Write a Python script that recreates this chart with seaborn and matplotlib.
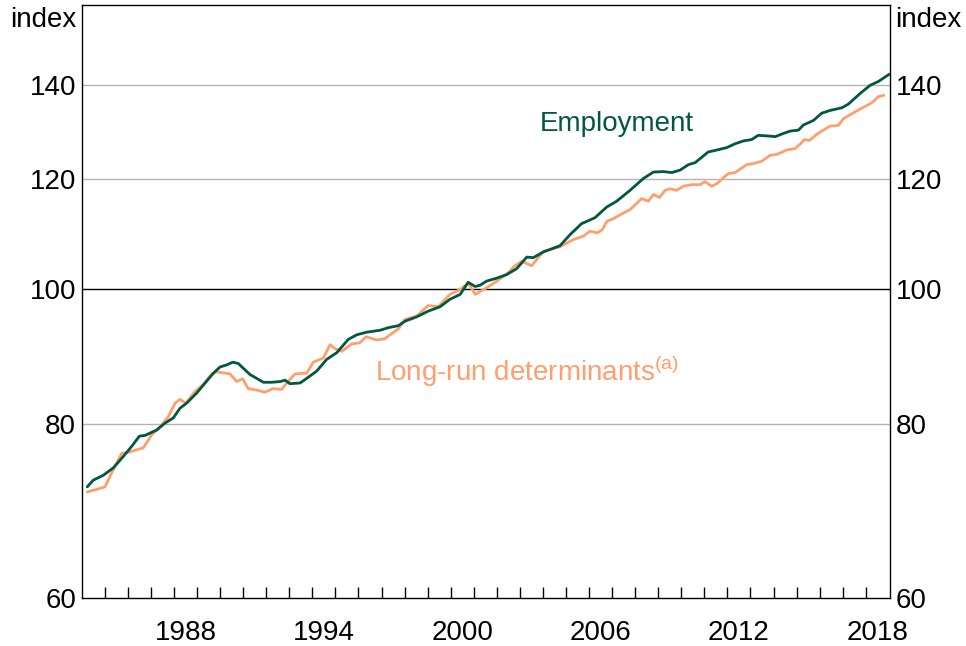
import numpy as np
import pandas as pd
import matplotlib
matplotlib.use("Agg")
import matplotlib.pyplot as plt
import seaborn as sns

# employment index, log scale, 2000 = 100
emp_dates = [1984.24, 1984.50, 1984.94, 1985.37, 1985.80, 1986.17, 1986.50, 1986.75,
             1987.25, 1987.61, 1987.97, 1988.26, 1988.55, 1988.99, 1989.35, 1989.71,
             1990.00, 1990.29, 1990.55, 1990.79, 1991.30, 1991.88, 1992.24, 1992.60,
             1992.82, 1993.03, 1993.47, 1993.69, 1994.19, 1994.62, 1995.06, 1995.56,
             1995.93, 1996.36, 1996.94, 1997.30, 1997.73, 1998.02, 1998.53, 1999.03,
             1999.54, 1999.97, 2000.41, 2000.76, 2001.06, 2001.27, 2001.56, 2002.00,
             2002.43, 2002.86, 2003.30, 2003.58, 2004.02, 2004.74, 2005.18, 2005.68,
             2005.90, 2006.26, 2006.77, 2007.20, 2007.78, 2008.35, 2008.79, 2009.22,
             2009.59, 2009.95, 2010.31, 2010.60, 2011.17, 2011.54, 2011.97, 2012.33,
             2012.69, 2013.05, 2013.34, 2013.92, 2014.07, 2014.43, 2014.72, 2015.08,
             2015.29, 2015.73, 2016.09, 2016.45, 2016.96, 2017.24, 2017.75, 2018.19,
             2018.55, 2019.02]
employment = [72.1, 72.9, 73.5, 74.4, 75.8, 77.1, 78.4, 78.5,
              79.2, 80.1, 80.8, 82.1, 82.8, 84.2, 85.6, 87.0,
              87.9, 88.2, 88.6, 88.4, 86.8, 85.7, 85.7, 85.8,
              86.0, 85.5, 85.6, 86.1, 87.3, 89.0, 90.0, 92.0,
              92.7, 93.1, 93.4, 93.8, 94.1, 94.8, 95.5, 96.4,
              97.1, 98.3, 99.1, 101.1, 100.4, 100.6, 101.3, 101.8,
              102.4, 103.4, 105.4, 105.3, 106.3, 107.4, 109.4, 111.4,
              111.8, 112.5, 114.5, 115.6, 117.7, 120.0, 121.3, 121.4,
              121.2, 121.7, 122.8, 123.2, 125.4, 125.8, 126.3, 127.1,
              127.7, 128.0, 128.9, 128.7, 128.6, 129.3, 129.8, 130.0,
              131.1, 132.1, 133.7, 134.3, 134.9, 135.7, 138.1, 140.0,
              140.9, 142.6]

# long-run determinants index
lr_dates = [1984.24, 1984.65, 1985.01, 1985.30, 1985.73, 1986.09, 1986.67, 1987.04,
            1987.40, 1987.76, 1988.05, 1988.26, 1988.52, 1988.91, 1989.27, 1989.64,
            1989.85, 1990.43, 1990.72, 1990.98, 1991.22, 1991.59, 1991.95, 1992.28,
            1992.67, 1992.89, 1993.25, 1993.76, 1994.04, 1994.48, 1994.77, 1994.98,
            1995.27, 1995.71, 1996.07, 1996.33, 1996.79, 1997.15, 1997.37, 1997.73,
            1998.02, 1998.53, 1999.03, 1999.46, 1999.97, 2000.41, 2000.76, 2001.06,
            2001.56, 2002.00, 2002.50, 2002.72, 2003.08, 2003.51, 2004.02, 2004.74,
            2005.32, 2005.75, 2006.04, 2006.36, 2006.58, 2006.77, 2007.05, 2007.42,
            2007.78, 2008.28, 2008.57, 2008.79, 2009.05, 2009.30, 2009.51, 2009.80,
            2010.09, 2010.45, 2010.81, 2011.03, 2011.32, 2011.54, 2012.04, 2012.33,
            2012.84, 2013.12, 2013.49, 2013.85, 2014.14, 2014.57, 2014.93, 2015.15,
            2015.34, 2015.55, 2015.87, 2016.45, 2016.81, 2017.03, 2017.61, 2018.26,
            2018.55, 2018.79]
long_run = [71.5, 71.8, 72.1, 73.8, 76.2, 76.4, 76.9, 78.6,
            79.6, 81.0, 82.8, 83.3, 82.8, 84.4, 85.4, 86.9,
            87.2, 86.9, 85.8, 86.2, 84.8, 84.6, 84.3, 84.8,
            84.7, 85.6, 86.9, 87.0, 88.6, 89.2, 91.2, 90.6,
            90.2, 91.3, 91.5, 92.4, 91.9, 92.1, 92.7, 93.6,
            95.1, 95.6, 97.3, 97.1, 99.1, 99.9, 101.0, 99.1,
            100.2, 101.3, 102.7, 103.7, 104.7, 103.9, 106.4, 107.2,
            108.5, 109.1, 110.0, 109.7, 110.3, 111.8, 112.3, 113.2,
            114.0, 116.1, 115.6, 116.9, 116.3, 117.7, 118.0, 117.7,
            118.5, 118.8, 118.8, 119.4, 118.5, 119.0, 121.0, 121.2,
            122.8, 123.0, 123.5, 124.7, 124.9, 125.8, 126.1, 127.0,
            128.0, 127.8, 129.1, 130.9, 131.0, 132.5, 134.2, 136.0,
            137.4, 137.7]

y_ticks = [60, 80, 100, 120, 140]
year_labels = [1988, 1994, 2000, 2006, 2012, 2018]

green = "#00583f"
orange = "#ff9f6e"

sns.set_style("white")
plt.rcParams['font.family'] = ['Liberation Sans', 'DejaVu Sans']
plt.rcParams['mathtext.fontset'] = 'custom'
plt.rcParams['mathtext.rm'] = 'Liberation Sans'
plt.rcParams['text.color'] = 'black'

emp_df = pd.DataFrame({'date': emp_dates, 'value': employment})
lr_df = pd.DataFrame({'date': lr_dates, 'value': long_run})

fig = plt.figure(figsize=(9.66, 6.46), dpi=100)
ax = fig.add_axes([0.0846, 0.0743, 0.8367, 0.9187])

ax.set_yscale('log')
ax.set_xlim(1984, 2019.05)
ax.set_ylim(60, 160)

# horizontal grid
for v in [80, 120, 140]:
    ax.axhline(v, color='#b4b4b4', lw=1.0, zorder=1)
ax.axhline(100, color='black', lw=1.0, zorder=1)

sns.lineplot(data=lr_df, x='date', y='value', color=orange, lw=2.0, ax=ax, zorder=3)
sns.lineplot(data=emp_df, x='date', y='value', color=green, lw=2.0, ax=ax, zorder=4)

ax.set_xlabel('')
ax.set_ylabel('')

# y axis: labels on both sides, no tick marks
ax.yaxis.set_major_locator(matplotlib.ticker.FixedLocator(y_ticks))
ax.yaxis.set_minor_locator(matplotlib.ticker.NullLocator())
ax.set_yticklabels([str(t) for t in y_ticks])
ax.tick_params(axis='y', which='major', length=0, pad=4, labelsize=20,
               labelcolor='black', left=True, right=True,
               labelleft=True, labelright=True)

# x axis: year marks inside, labels centred in the year
ax.set_xticks([y + 0.5 for y in year_labels])
ax.set_xticklabels([str(y) for y in year_labels])
ax.set_xticks(np.arange(1985, 2019), minor=True)
ax.tick_params(axis='x', which='major', length=0, pad=16, labelsize=20,
               labelcolor='black')
ax.tick_params(axis='x', which='minor', direction='in', length=8, width=1.0,
               color='black', bottom=True)

for s in ax.spines.values():
    s.set_visible(True)
    s.set_color('black')
    s.set_linewidth(1.0)

ax.text(-0.006, 0.974, 'index', transform=ax.transAxes, ha='right', va='center',
        fontsize=20)
ax.text(1.006, 0.974, 'index', transform=ax.transAxes, ha='left', va='center',
        fontsize=20)

ax.text(2007.2, 131.3, 'Employment', color=green, ha='center', va='center', fontsize=20)
ax.text(1996.72, 87.2, 'Long-run determinants$^{\\rm (a)}$', color=orange,
        ha='left', va='center', fontsize=20)

fig.savefig('out.png', dpi=100)
